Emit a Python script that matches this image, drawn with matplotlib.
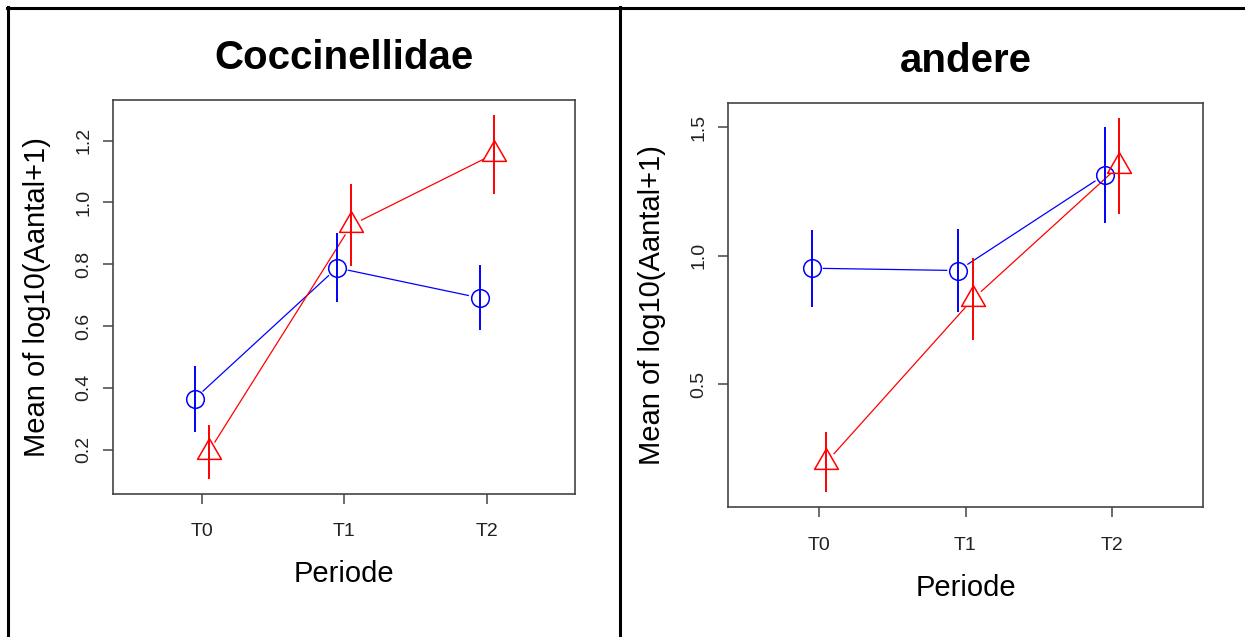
import numpy as np
import matplotlib
matplotlib.use("Agg")
import matplotlib.pyplot as plt
from matplotlib.path import Path
from matplotlib.lines import Line2D

plt.rcParams['font.family'] = ['Liberation Sans', 'DejaVu Sans']

# data (means and error bar half widths per periode)
periodes = ['T0', 'T1', 'T2']

cocc_blauw = [0.364, 0.788, 0.691]
cocc_blauw_se = [0.107, 0.112, 0.105]
cocc_rood = [0.193, 0.926, 1.156]
cocc_rood_se = [0.088, 0.132, 0.128]

andere_blauw = [0.951, 0.942, 1.314]
andere_blauw_se = [0.150, 0.163, 0.187]
andere_rood = [0.197, 0.831, 1.349]
andere_rood_se = [0.117, 0.160, 0.187]

BLAUW = '#0000FF'
ROOD = '#FF0000'
KADER = '#444444'

# R-style triangle (pch=2): point sits on the centroid
driehoek = Path([(0, 1.555), (1.347, -0.778), (-1.347, -0.778), (0, 1.555)],
                [Path.MOVETO, Path.LINETO, Path.LINETO, Path.CLOSEPOLY])


def lijn_met_gaten(ax, xs, ys, gap, **kw):
    # type="b" lines: stop short of the symbols
    pts = ax.transData.transform(np.column_stack([xs, ys]))
    inv = ax.transData.inverted()
    for p0, p1 in zip(pts[:-1], pts[1:]):
        d = p1 - p0
        u = d / np.hypot(*d)
        seg = inv.transform([p0 + u * gap, p1 - u * gap])
        ax.plot(seg[:, 0], seg[:, 1], **kw)


def paneel(ax, titel, blauw, blauw_se, rood, rood_se, yticks):
    x = np.arange(1, len(periodes) + 1)
    xb = x - 0.05
    xr = x + 0.05

    lo = min(np.min(np.subtract(blauw, blauw_se)), np.min(np.subtract(rood, rood_se)))
    hi = max(np.max(np.add(blauw, blauw_se)), np.max(np.add(rood, rood_se)))
    r = hi - lo
    ax.set_ylim(lo - 0.04 * r, hi + 0.04 * r)
    ax.set_xlim(0.38, 3.62)

    ax.vlines(xb, np.subtract(blauw, blauw_se), np.add(blauw, blauw_se), color=BLAUW, lw=1.4, zorder=3)
    ax.vlines(xr, np.subtract(rood, rood_se), np.add(rood, rood_se), color=ROOD, lw=1.4, zorder=3)

    ax.plot(xb, blauw, ls='none', marker='o', ms=12.7, mfc='none', mec=BLAUW, mew=1.1, zorder=4)
    ax.plot(xr, rood, ls='none', marker=driehoek, ms=19.8, mfc='none', mec=ROOD, mew=1.1, zorder=4)

    lijn_met_gaten(ax, xb, blauw, 11.5, color=BLAUW, lw=0.9, zorder=2)
    lijn_met_gaten(ax, xr, rood, 11.5, color=ROOD, lw=0.9, zorder=2)

    ax.set_xticks(x)
    ax.set_xticklabels(periodes)
    ax.set_yticks(yticks)
    ax.set_yticklabels([f'{t:.1f}' for t in yticks], rotation=90, va='center')
    ax.tick_params(axis='both', length=7.2, width=1.1, color=KADER, labelsize=14, labelcolor='#222222')
    ax.tick_params(axis='x', pad=14)
    ax.tick_params(axis='y', pad=8)
    for s in ax.spines.values():
        s.set_color(KADER)
        s.set_linewidth(1.2)

    ax.text(0.5, 1 + 31 / ax.bbox.height, titel, transform=ax.transAxes, ha='center', va='baseline',
            fontsize=29, fontweight='bold')
    ax.text(0.5, -89 / ax.bbox.height, 'Periode', transform=ax.transAxes, ha='center', va='baseline',
            fontsize=21)
    ax.text(-76 / ax.bbox.width, 0.5, 'Mean of log10(Aantal+1)', transform=ax.transAxes, ha='center',
            va='center', rotation=90, fontsize=21)


fig = plt.figure(figsize=(12.45, 6.37), dpi=100)
W, H = 1245, 637

ax1 = fig.add_axes([113.3 / W, (H - 493.5) / H, 461.7 / W, 393.5 / H])
ax2 = fig.add_axes([728.3 / W, (H - 507.3) / H, 474.4 / W, 404.6 / H])

paneel(ax1, 'Coccinellidae', cocc_blauw, cocc_blauw_se, cocc_rood, cocc_rood_se,
       [0.2, 0.4, 0.6, 0.8, 1.0, 1.2])
paneel(ax2, 'andere', andere_blauw, andere_blauw_se, andere_rood, andere_rood_se,
       [0.5, 1.0, 1.5])

# table borders around the two panels
for xs, ys in [([7, W], [8, 8]), ([8, 8], [7, H]), ([620, 620], [7, H])]:
    fig.add_artist(Line2D(np.array(xs) / W, 1 - np.array(ys) / H, color='black', lw=2.2,
                          transform=fig.transFigure))

fig.savefig('out.png', dpi=100)
